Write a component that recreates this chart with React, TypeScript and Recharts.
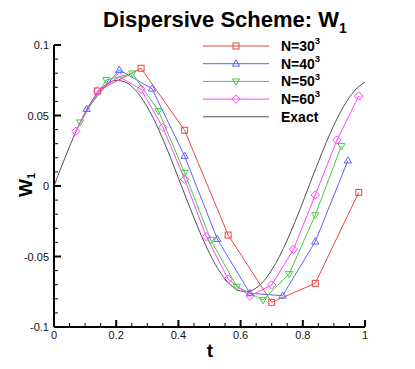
import React from "react";
import { LineChart, Line, XAxis, YAxis } from "recharts";

// ---- data ----
const T30 = [0.14, 0.28, 0.42, 0.56, 0.7, 0.84, 0.98];
const W30 = [0.0674, 0.0835, 0.0395, -0.0348, -0.0825, -0.069, -0.0045];

const T40 = [0.105, 0.21, 0.315, 0.42, 0.525, 0.63, 0.735, 0.84, 0.945];
const W40 = [0.0546, 0.0823, 0.069, 0.0213, -0.0376, -0.0761, -0.0778, -0.0395, 0.018];

const T50 = [0.084, 0.168, 0.252, 0.336, 0.42, 0.504, 0.588, 0.672, 0.756, 0.84, 0.924];
const W50 = [0.0452, 0.0752, 0.0799, 0.0532, 0.0094, -0.0383, -0.0714, -0.0809, -0.0624, -0.0206, 0.0284];

const T60 = [0.07, 0.14, 0.21, 0.28, 0.35, 0.42, 0.49, 0.56, 0.63, 0.7, 0.77, 0.84, 0.91, 0.98];
const W60 = [0.0388, 0.0674, 0.0775, 0.0686, 0.0416, 0.0048, -0.036, -0.066, -0.078, -0.0702, -0.0449, -0.0064, 0.0326, 0.0638];

const T_EXACT = [
  0, 0.025, 0.05, 0.075, 0.1, 0.125, 0.15, 0.175, 0.2, 0.225, 0.25, 0.275, 0.3, 0.325, 0.35, 0.375, 0.4,
  0.425, 0.45, 0.475, 0.5, 0.525, 0.55, 0.575, 0.6, 0.625, 0.65, 0.675, 0.7, 0.725, 0.75, 0.775, 0.8,
  0.825, 0.85, 0.875, 0.9, 0.925, 0.95, 0.975, 1.0,
];
const W_EXACT = [
  0, 0.0143, 0.028, 0.0408, 0.052, 0.0614, 0.0684, 0.073, 0.0749, 0.0741, 0.0706, 0.0645, 0.056, 0.0455,
  0.0333, 0.0199, 0.0057, -0.0086, -0.0225, -0.0358, -0.0477, -0.0579, -0.0659, -0.0715, -0.0745, -0.0748,
  -0.0723, -0.0672, -0.0596, -0.0499, -0.0383, -0.0254, -0.0115, 0.0029, 0.0171, 0.0307, 0.0431, 0.054,
  0.0629, 0.0696, 0.0736,
];

const X_TICKS = [0, 0.05, 0.1, 0.15, 0.2, 0.25, 0.3, 0.35, 0.4, 0.45, 0.5, 0.55, 0.6, 0.65, 0.7, 0.75, 0.8, 0.85, 0.9, 0.95, 1];
const Y_TICKS = [
  -0.1, -0.09, -0.08, -0.07, -0.06, -0.05, -0.04, -0.03, -0.02, -0.01, 0, 0.01, 0.02, 0.03, 0.04, 0.05,
  0.06, 0.07, 0.08, 0.09, 0.1,
];

const SERIES_NAMES = ["N=30", "N=40", "N=50", "N=60", "Exact"];

const zip = (ts: number[], ws: number[]) => ts.map((t, i) => ({ t, w: ws[i] }));
const d30 = zip(T30, W30);
const d40 = zip(T40, W40);
const d50 = zip(T50, W50);
const d60 = zip(T60, W60);
const dEx = zip(T_EXACT, W_EXACT);

const RED = "#ee4444";
const BLUE = "#6060ff";
const GREEN = "#44cc44";
const MAGENTA = "#ff44ff";
const BLACK = "#505050";

const FONT = "'Liberation Sans', Arial, Helvetica, sans-serif";

type Shape = "square" | "up" | "down" | "diamond" | "none";

const Marker = ({ shape, cx, cy, color }: { shape: Shape; cx: number; cy: number; color: string }) => {
  if (shape === "square")
    return <rect x={cx - 3} y={cy - 3} width={6} height={6} fill="none" stroke={color} strokeWidth={1} />;
  if (shape === "up")
    return (
      <polygon
        points={`${cx},${cy - 3.8} ${cx - 3.6},${cy + 2.4} ${cx + 3.6},${cy + 2.4}`}
        fill="none"
        stroke={color}
        strokeWidth={1}
      />
    );
  if (shape === "down")
    return (
      <polygon
        points={`${cx},${cy + 3.8} ${cx - 3.6},${cy - 2.4} ${cx + 3.6},${cy - 2.4}`}
        fill="none"
        stroke={color}
        strokeWidth={1}
      />
    );
  if (shape === "diamond")
    return (
      <polygon
        points={`${cx},${cy - 4.2} ${cx + 4.2},${cy} ${cx},${cy + 4.2} ${cx - 4.2},${cy}`}
        fill="none"
        stroke={color}
        strokeWidth={1}
      />
    );
  return null;
};

const makeDot = (shape: Shape, color: string) => (props: any) => {
  const { cx, cy, index } = props;
  if (cx == null || cy == null) return <g key={`e-${index}`} />;
  return (
    <g key={`${shape}-${index}`}>
      <Marker shape={shape} cx={cx} cy={cy} color={color} />
    </g>
  );
};

const isMult = (v: number, step: number) => Math.abs(v / step - Math.round(v / step)) < 1e-6;
const fmt = (v: number) => {
  const r = Math.round(v * 1000) / 1000;
  return String(r);
};

const XTick = (props: any) => {
  const { x, y, payload } = props;
  const v = payload.value;
  const major = isMult(v, 0.2);
  return (
    <g>
      <line x1={x} x2={x} y1={y} y2={y - (major ? 7 : 4)} stroke="#000" strokeWidth={major ? 2 : 1} />
      {major && (
        <text x={x} y={y + 12} textAnchor="middle" fontSize={11} fontFamily={FONT} fill="#111">
          {fmt(v)}
        </text>
      )}
    </g>
  );
};

const YTick = (props: any) => {
  const { x, y, payload } = props;
  const v = payload.value;
  const major = isMult(v, 0.05);
  return (
    <g>
      <line x1={x} x2={x + (major ? 7 : 4)} y1={y} y2={y} stroke="#000" strokeWidth={major ? 2 : 1} />
      {major && (
        <text x={x - 5} y={y + 4} textAnchor="end" fontSize={11} fontFamily={FONT} fill="#111">
          {fmt(v)}
        </text>
      )}
    </g>
  );
};

const LEGEND_ITEMS: { color: string; shape: Shape; sup: boolean }[] = [
  { color: RED, shape: "square", sup: true },
  { color: BLUE, shape: "up", sup: true },
  { color: GREEN, shape: "down", sup: true },
  { color: MAGENTA, shape: "diamond", sup: true },
  { color: BLACK, shape: "none", sup: false },
];

const LegendBlock = () => (
  <g>
    {LEGEND_ITEMS.map((it, i) => {
      const y = 46 + i * 17.7;
      return (
        <g key={i}>
          <line x1={203} x2={269} y1={y} y2={y} stroke={it.color} strokeWidth={1} />
          <Marker shape={it.shape} cx={236} cy={y} color={it.color} />
          <text x={281} y={y + 5} fontSize={14} fontWeight="bold" fontFamily={FONT} fill="#000">
            {SERIES_NAMES[i]}
            {it.sup && (
              <tspan fontSize={9.5} dy={-6.7}>
                3
              </tspan>
            )}
          </text>
        </g>
      );
    })}
  </g>
);

const Titles = () => (
  <g>
    <text x={103} y={27} fontSize={22} fontWeight="bold" fontFamily={FONT} fill="#000">
      Dispersive Scheme: W
      <tspan fontSize={14} dy={6}>
        1
      </tspan>
    </text>
    <text x={210} y={357} textAnchor="middle" fontSize={19} fontWeight="bold" fontFamily={FONT} fill="#000">
      t
    </text>
    <text
      x={32}
      y={197}
      transform="rotate(-90 32 197)"
      style={{ transform: "rotate(-90deg)", transformOrigin: "32px 197px", transformBox: "view-box" }}
      fontSize={19}
      fontWeight="bold"
      fontFamily={FONT}
      fill="#000"
    >
      W
      <tspan fontSize={11} dy={3}>
        1
      </tspan>
    </text>
  </g>
);

export default function App() {
  return (
    <div style={{ position: "absolute", left: 0, top: 0, width: 415, height: 369, background: "#fff" }}>
      <LineChart width={415} height={369} data={dEx} margin={{ top: 45, right: 50, bottom: 41, left: 53 }}>
        <XAxis
          dataKey="t"
          type="number"
          domain={[0, 1]}
          ticks={X_TICKS}
          interval={0}
          height={1}
          tickSize={0}
          tickMargin={0}
          tickLine={false}
          tick={XTick}
          axisLine={{ stroke: "#000", strokeWidth: 2 }}
          allowDataOverflow
        />
        <YAxis
          type="number"
          domain={[-0.1, 0.1]}
          ticks={Y_TICKS}
          interval={0}
          width={1}
          tickSize={0}
          tickMargin={0}
          tickLine={false}
          tick={YTick}
          axisLine={{ stroke: "#000", strokeWidth: 2 }}
          allowDataOverflow
        />
        <Line data={dEx} dataKey="w" type="monotone" stroke={BLACK} strokeWidth={1} dot={false} isAnimationActive={false} />
        <Line data={d30} dataKey="w" type="linear" stroke={RED} strokeWidth={1} dot={makeDot("square", RED)} isAnimationActive={false} />
        <Line data={d40} dataKey="w" type="linear" stroke={BLUE} strokeWidth={1} dot={makeDot("up", BLUE)} isAnimationActive={false} />
        <Line data={d50} dataKey="w" type="linear" stroke={GREEN} strokeWidth={1} dot={makeDot("down", GREEN)} isAnimationActive={false} />
        <Line data={d60} dataKey="w" type="linear" stroke={MAGENTA} strokeWidth={1} dot={makeDot("diamond", MAGENTA)} isAnimationActive={false} />
        <Titles />
        <LegendBlock />
      </LineChart>
    </div>
  );
}
